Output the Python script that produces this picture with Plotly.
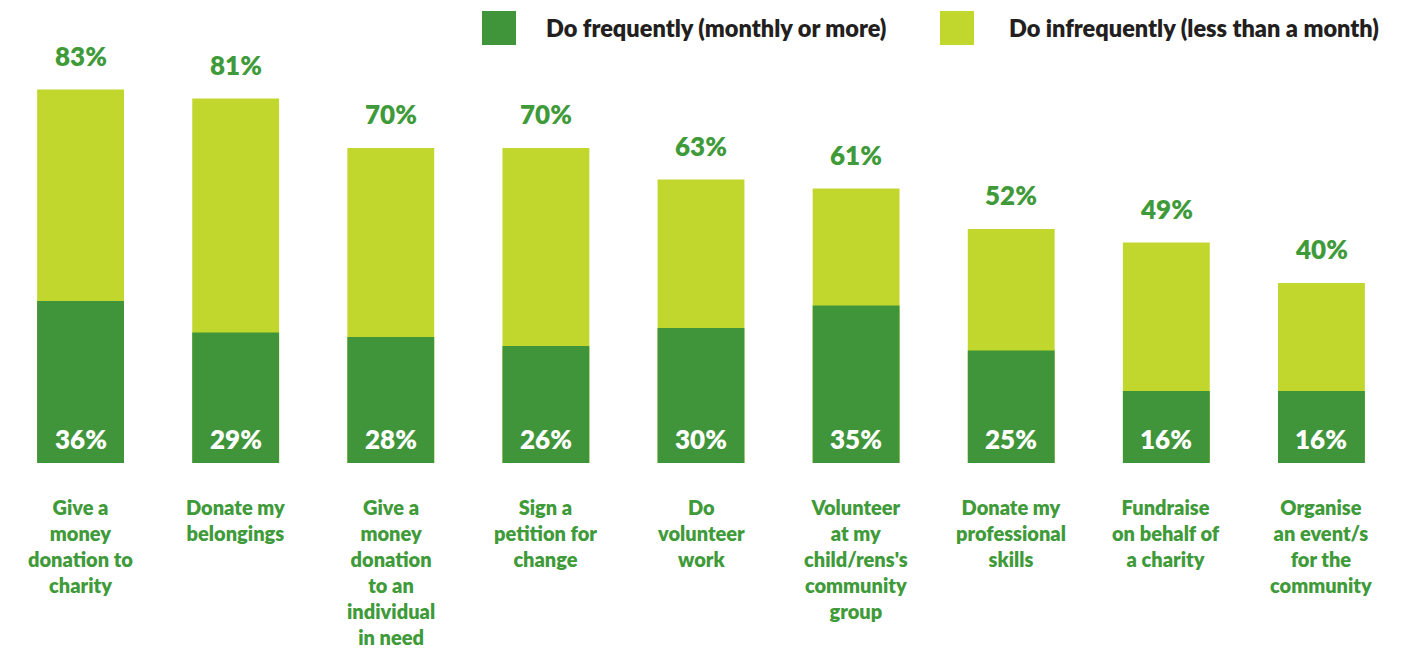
import plotly.graph_objects as go

categories = [
    "Give a<br>money<br>donation to<br>charity",
    "Donate my<br>belongings",
    "Give a<br>money<br>donation<br>to an<br>individual<br>in need",
    "Sign a<br>petition for<br>change",
    "Do<br>volunteer<br>work",
    "Volunteer<br>at my<br>child/rens's<br>community<br>group",
    "Donate my<br>professional<br>skills",
    "Fundraise<br>on behalf of<br>a charity",
    "Organise<br>an event/s<br>for the<br>community",
]
total_pct = [83, 81, 70, 70, 63, 61, 52, 49, 40]
frequent_pct = [36, 29, 28, 26, 30, 35, 25, 16, 16]
legend_labels = ["Do frequently (monthly or more)", "Do infrequently (less than a month)"]

DARK = "#40953A"
LIGHT = "#C2D72E"
TEXT_GREEN = "#3F9A3A"
FONT = "Lato"
WT = 800

W, H = 1410, 648
ML, MR, MT, MB = 3, 11, 0, 185
PW = W - ML - MR
PH = H - MT - MB

def px_x(x):
    return (x - ML) / PW

def px_y(y):
    return (H - MB - y) / PH

x = list(range(len(categories)))

fig = go.Figure()
fig.add_trace(go.Bar(x=x, y=total_pct, marker=dict(color=LIGHT, line=dict(width=0)),
                     width=0.56, name=legend_labels[1], hoverinfo="skip"))
fig.add_trace(go.Bar(x=x, y=frequent_pct, marker=dict(color=DARK, line=dict(width=0)),
                     width=0.56, name=legend_labels[0], hoverinfo="skip"))

annotations = []
for i in x:
    annotations.append(dict(x=i, y=total_pct[i], xref="x", yref="y", text=f"{total_pct[i]}%",
                            showarrow=False, yanchor="middle", yshift=34,
                            font=dict(family=FONT, size=26, color=TEXT_GREEN, weight=WT)))
    annotations.append(dict(x=i, y=0, xref="x", yref="y", text=f"{frequent_pct[i]}%",
                            showarrow=False, yanchor="middle", yshift=24,
                            font=dict(family=FONT, size=26, color="white", weight=WT)))
    annotations.append(dict(x=i, y=0, xref="x", yref="y", text=categories[i],
                            showarrow=False, yanchor="top", yshift=-30, align="center",
                            font=dict(family=FONT, size=20, color=TEXT_GREEN, weight=WT)))

# legend
shapes = [
    dict(type="rect", xref="paper", yref="paper", x0=px_x(482), x1=px_x(516), y0=px_y(45), y1=px_y(11),
         fillcolor=DARK, line=dict(width=0)),
    dict(type="rect", xref="paper", yref="paper", x0=px_x(940), x1=px_x(974), y0=px_y(45), y1=px_y(11),
         fillcolor=LIGHT, line=dict(width=0)),
]
annotations.append(dict(x=px_x(544), y=px_y(28), xref="paper", yref="paper", xanchor="left", yanchor="middle",
                        text=legend_labels[0], showarrow=False,
                        font=dict(family=FONT, size=23.5, color="#231F20", weight=WT)))
annotations.append(dict(x=px_x(1007), y=px_y(28), xref="paper", yref="paper", xanchor="left", yanchor="middle",
                        text=legend_labels[1], showarrow=False,
                        font=dict(family=FONT, size=23.5, color="#231F20", weight=WT)))

fig.update_layout(
    width=W, height=H,
    margin=dict(l=ML, r=MR, t=MT, b=MB),
    barmode="overlay",
    plot_bgcolor="white", paper_bgcolor="white",
    showlegend=False,
    annotations=annotations,
    shapes=shapes,
    xaxis=dict(range=[-0.5, len(categories) - 0.5], showticklabels=False, showgrid=False,
               zeroline=False, showline=False, ticks=""),
    yaxis=dict(range=[0, PH / 4.5], showticklabels=False, showgrid=False, zeroline=False,
               showline=False, ticks=""),
    font=dict(family=FONT),
)

fig.write_html("out.html")
